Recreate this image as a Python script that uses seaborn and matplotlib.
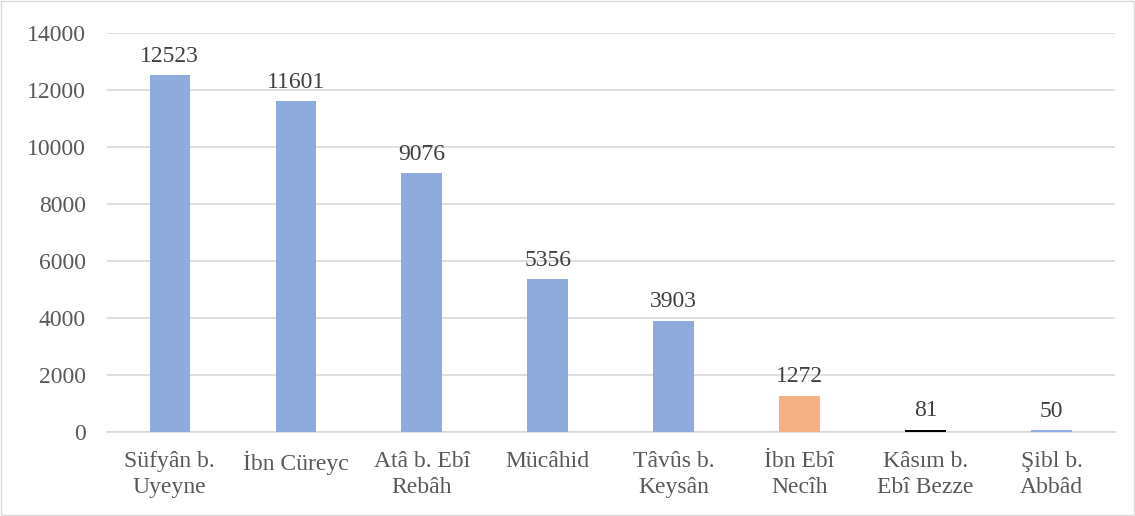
import matplotlib
matplotlib.use("Agg")
import matplotlib.pyplot as plt
import seaborn as sns
import pandas as pd
from matplotlib.patches import Rectangle

# chart values
names = ["Süfyân b.\nUyeyne", "İbn Cüreyc", "Atâ b. Ebî\nRebâh", "Mücâhid",
         "Tâvûs b.\nKeysân", "İbn Ebî\nNecîh", "Kâsım b.\nEbî Bezze", "Şibl b.\nAbbâd"]
counts = [12523, 11601, 9076, 5356, 3903, 1272, 81, 50]
bar_colors = ["#8FAADC", "#8FAADC", "#8FAADC", "#8FAADC", "#8FAADC",
              "#F4B183", "#000000", "#8FAADC"]

df = pd.DataFrame({"name": names, "count": counts})

sns.set_style("white")
plt.rcParams["font.family"] = ["Liberation Serif", "DejaVu Serif"]

fig = plt.figure(figsize=(11.35, 5.16), dpi=100)
ax = fig.add_axes([0.094, 0.163, 0.888, 0.773])

sns.barplot(data=df, x="name", y="count", hue="name", palette=bar_colors,
            legend=False, width=0.32, saturation=1, linewidth=0, ax=ax)
for p in ax.patches:
    p.set_zorder(3)

ax.set_ylim(0, 14000)
ax.set_xlim(-0.5, len(names) - 0.5)
ax.set_yticks(range(0, 14001, 2000))
ax.yaxis.grid(True, color="#D9D9D9", linewidth=1.2)
ax.set_axisbelow(True)
for s in ["top", "right", "left"]:
    ax.spines[s].set_visible(False)
ax.spines["bottom"].set_color("#D9D9D9")
ax.spines["bottom"].set_linewidth(1.2)
ax.spines["bottom"].set_zorder(1)

ax.tick_params(axis="both", length=0, labelsize=17, labelcolor="#595959")
ax.tick_params(axis="y", pad=15)
ax.tick_params(axis="x", pad=14)
for lbl in ax.get_xticklabels():
    lbl.set_linespacing(1.3)
ax.set_xlabel("")
ax.set_ylabel("")

for i, v in enumerate(counts):
    ax.annotate(str(v), (i, v), xytext=(0, 6), textcoords="offset points",
                ha="center", va="bottom", fontsize=17, color="#404040")

fig.patches.append(Rectangle((0.001, 0.001), 0.998, 0.997, transform=fig.transFigure,
                             fill=False, edgecolor="#D9D9D9", linewidth=1))

fig.savefig("out.png", dpi=100)
